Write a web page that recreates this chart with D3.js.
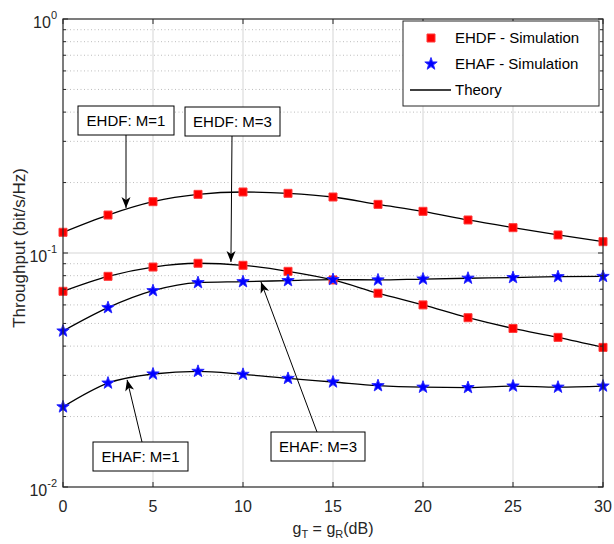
<!DOCTYPE html>
<html>
<head>
<meta charset="utf-8">
<script src="https://cdn.jsdelivr.net/npm/d3@7"></script>
<style>
body { margin: 0; background: #fff; }
text { font-family: "Liberation Sans", Arial, sans-serif; fill: #262626; }
</style>
</head>
<body>
<div id="vis"></div>
<script>
// data
const gdB = [0, 2.5, 5, 7.5, 10, 12.5, 15, 17.5, 20, 22.5, 25, 27.5, 30];
const ehdfM1 = [0.1226, 0.1453, 0.1657, 0.1781, 0.1823, 0.1799, 0.1735, 0.1614, 0.1507, 0.1384, 0.1283, 0.1194, 0.1118];
const ehdfM3 = [0.0686, 0.0795, 0.0871, 0.0904, 0.0886, 0.0835, 0.0767, 0.0673, 0.0600, 0.0529, 0.0476, 0.0436, 0.0395];
const ehafM3 = [0.0464, 0.0584, 0.0690, 0.0747, 0.0754, 0.0762, 0.0770, 0.0767, 0.0774, 0.0780, 0.0785, 0.0792, 0.0794];
const ehafM1 = [0.0220, 0.0278, 0.0304, 0.0312, 0.0303, 0.0291, 0.0281, 0.0271, 0.0267, 0.0266, 0.0270, 0.0267, 0.0270];
const xTicks = [0, 5, 10, 15, 20, 25, 30];
const yTicks = [0.01, 0.1, 1];
const yTickExp = ['-2', '-1', '0'];

const width = 614;
const height = 544;
const pLeft = 63, pRight = 603, pTop = 19, pBottom = 487;

const svg = d3.select('#vis')
    .append('svg')
    .attr('width', width)
    .attr('height', height);

const x = d3.scaleLinear().domain([0, 30]).range([pLeft, pRight]);
const y = d3.scaleLog().domain([0.01, 1]).range([pBottom, pTop]);

// minor ticks 2..9 per decade
const minor = [];
[0.01, 0.1].forEach(d => { for (let k = 2; k <= 9; k++) minor.push(k * d); });

// grid
svg.append('g').selectAll('line')
    .data(minor)
    .join('line')
    .attr('x1', pLeft).attr('x2', pRight)
    .attr('y1', d => y(d)).attr('y2', d => y(d))
    .style('stroke', '#bdbdbd')
    .style('stroke-width', 1)
    .style('stroke-dasharray', '1,2.5');

svg.append('g').selectAll('line')
    .data(xTicks.slice(1, -1))
    .join('line')
    .attr('x1', d => x(d)).attr('x2', d => x(d))
    .attr('y1', pTop).attr('y2', pBottom)
    .style('stroke', '#e3e3e3')
    .style('stroke-width', 1.5);

svg.append('line')
    .attr('x1', pLeft).attr('x2', pRight)
    .attr('y1', y(0.1)).attr('y2', y(0.1))
    .style('stroke', '#e3e3e3')
    .style('stroke-width', 1.5);

// theory curves
const line = d3.line()
    .x(d => x(d[0]))
    .y(d => y(d[1]))
    .curve(d3.curveMonotoneX);

const series = [
    {vals: ehdfM1, kind: 'sq'},
    {vals: ehdfM3, kind: 'sq'},
    {vals: ehafM3, kind: 'star'},
    {vals: ehafM1, kind: 'star'}
];

svg.append('g').selectAll('path')
    .data(series)
    .join('path')
    .attr('d', s => line(gdB.map((g, i) => [g, s.vals[i]])))
    .style('fill', 'none')
    .style('stroke', '#000')
    .style('stroke-width', 1.3);

// markers
function starPath(r) {
    const ri = r * 0.4;
    let p = '';
    for (let i = 0; i < 10; i++) {
        const a = -Math.PI / 2 + i * Math.PI / 5;
        const rr = i % 2 === 0 ? r : ri;
        p += (i === 0 ? 'M' : 'L') + (rr * Math.cos(a)).toFixed(2) + ',' + (rr * Math.sin(a)).toFixed(2);
    }
    return p + 'Z';
}
const sqPath = 'M-4,-4L4,-4L4,4L-4,4Z';

series.forEach(s => {
    svg.append('g').selectAll('path')
        .data(gdB.map((g, i) => [g, s.vals[i]]))
        .join('path')
        .attr('transform', d => `translate(${x(d[0])},${y(d[1])})`)
        .attr('d', s.kind === 'sq' ? sqPath : starPath(6.5))
        .style('fill', s.kind === 'sq' ? '#ff0000' : '#0000ff')
        .style('stroke', s.kind === 'sq' ? '#ff3b3b' : '#2a2aff')
        .style('stroke-width', 1);
});

// frame and ticks
const axisColor = '#262626';
svg.append('rect')
    .attr('x', pLeft).attr('y', pTop)
    .attr('width', pRight - pLeft).attr('height', pBottom - pTop)
    .style('fill', 'none')
    .style('stroke', axisColor)
    .style('stroke-width', 1.2);

const tk = svg.append('g').style('stroke', axisColor).style('stroke-width', 1);
xTicks.forEach(d => {
    tk.append('line').attr('x1', x(d)).attr('x2', x(d)).attr('y1', pBottom).attr('y2', pBottom - 5);
    tk.append('line').attr('x1', x(d)).attr('x2', x(d)).attr('y1', pTop).attr('y2', pTop + 5);
});
yTicks.forEach(d => {
    tk.append('line').attr('x1', pLeft).attr('x2', pLeft + 5).attr('y1', y(d)).attr('y2', y(d));
    tk.append('line').attr('x1', pRight).attr('x2', pRight - 5).attr('y1', y(d)).attr('y2', y(d));
});
minor.forEach(d => {
    tk.append('line').attr('x1', pLeft).attr('x2', pLeft + 3).attr('y1', y(d)).attr('y2', y(d));
    tk.append('line').attr('x1', pRight).attr('x2', pRight - 3).attr('y1', y(d)).attr('y2', y(d));
});

// tick labels
svg.append('g').selectAll('text')
    .data(xTicks)
    .join('text')
    .attr('x', d => x(d))
    .attr('y', pBottom + 25)
    .attr('text-anchor', 'middle')
    .style('font-size', '16px')
    .text(d => d);

yTicks.forEach((d, i) => {
    const t = svg.append('text')
        .attr('x', 57)
        .attr('y', y(d) + 9)
        .attr('text-anchor', 'end')
        .style('font-size', '16px');
    t.append('tspan').text('10');
    t.append('tspan').attr('dy', -9).style('font-size', '11px').text(yTickExp[i]);
});

// axis labels
const xl = svg.append('text')
    .attr('x', 333)
    .attr('y', 534)
    .attr('text-anchor', 'middle')
    .style('font-size', '16px');
xl.append('tspan').text('g');
xl.append('tspan').attr('dy', 4).style('font-size', '11px').text('T');
xl.append('tspan').attr('dy', -4).text(' = g');
xl.append('tspan').attr('dy', 4).style('font-size', '11px').text('R');
xl.append('tspan').attr('dy', -4).text('(dB)');

svg.append('text')
    .attr('transform', 'translate(25,248) rotate(-90)')
    .attr('text-anchor', 'middle')
    .style('font-size', '17px')
    .text('Throughput (bit/s/Hz)');

// annotations (arrow tips in data units, boxes in pixels)
svg.append('defs').append('marker')
    .attr('id', 'head')
    .attr('viewBox', '-12 -5 13 10')
    .attr('refX', 0).attr('refY', 0)
    .attr('markerWidth', 13).attr('markerHeight', 10)
    .attr('markerUnits', 'userSpaceOnUse')
    .attr('orient', 'auto')
    .append('path')
    .attr('d', 'M0,0L-11,-4.5L-8,0L-11,4.5Z')
    .style('fill', '#000');

const notes = [
    {label: 'EHDF: M=1', tx: 3.5, ty: 0.1557, bx: 78, by: 106, bw: 96, lx: 126},
    {label: 'EHDF: M=3', tx: 9.33, ty: 0.0915, bx: 185, by: 107, bw: 95, lx: 232},
    {label: 'EHAF: M=1', tx: 3.56, ty: 0.0287, bx: 93, by: 442, bw: 95, lx: 142},
    {label: 'EHAF: M=3', tx: 11, ty: 0.0752, bx: 271, by: 432, bw: 94, lx: 317}
];

notes.forEach(n => {
    const up = n.by > y(n.ty);
    svg.append('line')
        .attr('x1', n.lx).attr('y1', up ? n.by : n.by + 29)
        .attr('x2', x(n.tx)).attr('y2', y(n.ty))
        .style('stroke', '#000')
        .style('stroke-width', 1)
        .attr('marker-end', 'url(#head)');
    svg.append('rect')
        .attr('x', n.bx).attr('y', n.by)
        .attr('width', n.bw).attr('height', 29)
        .style('fill', '#fff')
        .style('stroke', '#000')
        .style('stroke-width', 1);
    svg.append('text')
        .attr('x', n.bx + n.bw / 2)
        .attr('y', n.by + 20)
        .attr('text-anchor', 'middle')
        .style('font-size', '15px')
        .style('fill', '#000')
        .text(n.label);
});

// legend
const lg = svg.append('g');
lg.append('rect')
    .attr('x', 403).attr('y', 21)
    .attr('width', 196).attr('height', 85)
    .style('fill', '#fff')
    .style('stroke', axisColor)
    .style('stroke-width', 1);
lg.append('path')
    .attr('transform', 'translate(431,38)')
    .attr('d', sqPath)
    .style('fill', '#ff0000').style('stroke', '#ff3b3b');
lg.append('path')
    .attr('transform', 'translate(431,64)')
    .attr('d', starPath(6.5))
    .style('fill', '#0000ff').style('stroke', '#2a2aff');
lg.append('line')
    .attr('x1', 410).attr('x2', 451)
    .attr('y1', 90).attr('y2', 90)
    .style('stroke', '#000').style('stroke-width', 1.3);
const legendText = ['EHDF - Simulation', 'EHAF - Simulation', 'Theory'];
lg.selectAll('text.lab')
    .data(legendText)
    .join('text')
    .attr('class', 'lab')
    .attr('x', 455)
    .attr('y', (d, i) => 43 + i * 26)
    .style('font-size', '15px')
    .style('fill', '#000')
    .text(d => d);
</script>
</body>
</html>
